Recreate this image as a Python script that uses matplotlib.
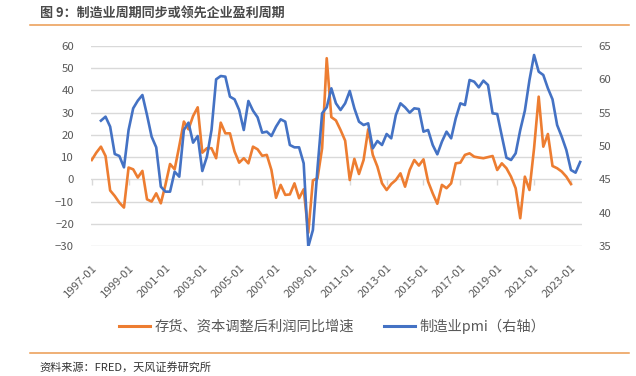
import matplotlib
matplotlib.use("Agg")
import matplotlib.pyplot as plt
from matplotlib.lines import Line2D
import pandas as pd

plt.rcParams['font.family'] = ['Noto Sans CJK SC', 'DejaVu Sans']

title = "图 9：制造业周期同步或领先企业盈利周期"
source = "资料来源：FRED，天风证券研究所"
orange_name = "存货、资本调整后利润同比增速"
blue_name = "制造业pmi（右轴）"

orange_start = "1997Q1"
profit_yoy = [8.7, 12.0, 14.7, 10.5, -5.0, -7.5, -10.5, -12.7, 5.3, 4.5,
              0.8, 3.8, -9.0, -10.0, -6.3, -10.8, -2.5, 6.9, 4.5, 15.0,
              26.0, 22.5, 28.5, 32.4, 12.0, 14.0, 14.0, 9.5, 25.5, 20.7,
              20.7, 12.5, 7.5, 9.5, 7.2, 14.7, 13.5, 10.6, 11.0, 4.2,
              -8.3, -2.5, -7.0, -6.8, -1.8, -8.5, -4.5, -24.0, -0.5, 0.5,
              14.0, 54.5, 28.0, 26.5, 22.2, 17.4, -0.3, 9.2, 2.4, 8.7,
              22.5, 11.0, 5.7, -1.8, -4.8, -2.1, -0.3, 2.7, -3.3, 4.2,
              8.7, 6.2, 9.0, -1.0, -6.3, -11.0, -2.5, -4.0, -1.8, 7.2,
              7.5, 11.0, 11.7, 10.2, 9.8, 9.5, 10.0, 10.5, 4.2, 7.2,
              5.0, 1.2, -4.0, -17.5, 1.2, -4.8, 14.0, 37.2, 14.7, 20.4,
              6.0, 5.0, 3.5, 1.2, -2.1]

blue_start = "1997Q3"
pmi = [53.8, 54.4, 52.9, 48.8, 48.5, 46.8, 52.4, 55.65, 56.8, 57.65,
       54.65, 51.4, 49.8, 43.9, 43.15, 43.15, 46.15, 45.4, 52.4, 53.5,
       50.5, 51.5, 46.25, 48.4, 52.4, 60.0, 60.5, 60.4, 57.4, 57.0,
       55.4, 52.4, 56.75, 55.3, 54.3, 52.0, 52.15, 51.5, 52.9, 54.0,
       53.65, 50.15, 49.8, 49.8, 47.4, 34.9, 37.4, 46.65, 54.9, 55.8,
       58.65, 56.4, 55.4, 56.4, 58.25, 55.65, 53.65, 53.15, 53.4, 49.65,
       50.75, 50.15, 51.8, 51.15, 54.65, 56.4, 55.8, 55.0, 55.65, 55.55,
       52.15, 52.4, 50.15, 48.75, 50.65, 52.15, 51.15, 54.15, 56.4, 56.15,
       59.9, 59.65, 58.8, 59.8, 59.15, 54.9, 54.8, 51.5, 48.25, 47.9,
       48.9, 52.4, 55.3, 59.9, 63.65, 61.15, 60.65, 58.65, 57.0, 53.15,
       51.4, 49.4, 46.4, 46.0, 47.6]

tick_labels = ["1997-01", "1999-01", "2001-01", "2003-01", "2005-01", "2007-01",
               "2009-01", "2011-01", "2013-01", "2015-01", "2017-01", "2019-01",
               "2021-01", "2023-01"]

base = pd.Period("1997Q1", freq="Q")
def qidx(start, n):
    per = pd.period_range(start, periods=n, freq="Q")
    return [(p - base).n for p in per]

x_or = qidx(orange_start, len(profit_yoy))
x_bl = qidx(blue_start, len(pmi))
x_ticks = [(pd.Period(pd.Timestamp(t + "-01"), freq="Q") - base).n for t in tick_labels]

ORANGE = "#ED7D31"
BLUE = "#4472C4"
GRID = "#D9D9D9"
TXT = "#595959"
RULE = "#EB9A50"

fig = plt.figure(figsize=(6.36, 3.76), dpi=100)
ax = fig.add_axes([90.7/636, 1-246/376, (582-90.7)/636, 200/376])
ax2 = ax.twinx()

ax.set_ylim(-30, 60)
ax.set_yticks(range(-30, 61, 10))
ax2.set_ylim(35, 65)
ax2.set_yticks(range(35, 66, 5))
ax.set_xlim(-0.22, 106.4)

ax.grid(axis='y', color=GRID, linewidth=1.0)
ax.set_axisbelow(True)

ax.plot(x_or, profit_yoy, color=ORANGE, linewidth=1.9, solid_joinstyle='round', zorder=3)
ax2.plot(x_bl, pmi, color=BLUE, linewidth=1.9, solid_joinstyle='round', zorder=3)

for a in (ax, ax2):
    for s in a.spines.values():
        s.set_visible(False)

ax.tick_params(axis='y', length=0, labelsize=8.2, labelcolor=TXT, pad=12)
ax2.tick_params(axis='y', length=0, labelsize=8.2, labelcolor=TXT, pad=12)

ax.set_xticks(x_ticks)
ax.set_xticklabels(tick_labels, rotation=45, ha='right', va='top', rotation_mode='anchor')
ax.tick_params(axis='x', length=0, labelsize=8.2, labelcolor=TXT, pad=12)

# small category tick marks on the zero line
sec = ax.secondary_xaxis(30/90)
sec.set_xticks(x_ticks)
sec.tick_params(axis='x', length=4, width=1, color=GRID, direction='out', labelbottom=False, labeltop=False)
sec.spines['bottom'].set_visible(False)
sec.spines['top'].set_visible(False)

handles = [Line2D([], [], color=ORANGE, linewidth=2.2), Line2D([], [], color=BLUE, linewidth=2.2)]
fig.legend(handles, [orange_name, blue_name], loc='center', bbox_to_anchor=(332/636, 1-326/376),
           ncol=2, frameon=False, fontsize=10.3, handlelength=2.2, handletextpad=0.3,
           columnspacing=2.1, labelcolor=TXT)

fig.text(40/636, 1-13/376, title, fontsize=9.4, fontweight='bold', color='#4a4a4a', va='center', ha='left')
fig.add_artist(Line2D([30/636, 629/636], [1-25/376, 1-25/376], color=RULE, linewidth=1.1, transform=fig.transFigure))
fig.add_artist(Line2D([30/636, 629/636], [1-352.7/376, 1-352.7/376], color=RULE, linewidth=1.1, transform=fig.transFigure))
fig.text(39/636, 1-367/376, source, fontsize=8, color='#333333', va='center', ha='left')

fig.savefig("out.png", dpi=100)
